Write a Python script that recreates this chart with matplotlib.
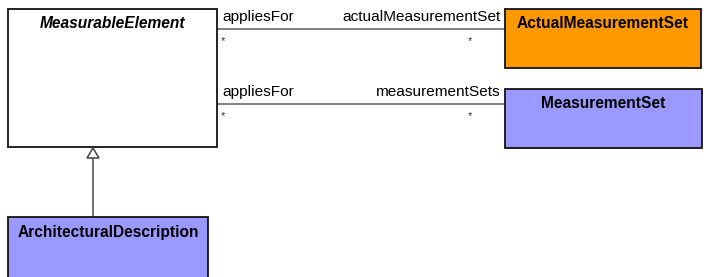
import matplotlib.pyplot as plt
from matplotlib.patches import Rectangle, Polygon

# Clases del diagrama
clases = ['MeasurableElement', 'ActualMeasurementSet', 'MeasurementSet', 'ArchitecturalDescription']
italica = [True, False, False, False]
colores = ['white', '#ff9900', '#9999ff', '#9999ff']

# Asociaciones: (rol origen, rol destino, multiplicidad origen, multiplicidad destino)
roles_origen = ['appliesFor', 'appliesFor']
roles_destino = ['actualMeasurementSet', 'measurementSets']
mult_origen = ['*', '*']
mult_destino = ['*', '*']

# Disposicion en pixeles (x0, y0, x1, y1)
cajas = [(8, 9, 217, 147), (505, 9, 701, 68), (505, 89, 702, 148), (8, 217, 208, 290)]
y_asoc = [29, 104]

plt.rcParams['font.family'] = ['Liberation Sans', 'DejaVu Sans']
fig = plt.figure(figsize=(7.04, 2.77), dpi=100)
ax = fig.add_axes([0, 0, 1, 1])
ax.set_xlim(0, 704)
ax.set_ylim(277, 0)
ax.axis('off')

for nombre, ita, col, (x0, y0, x1, y1) in zip(clases, italica, colores, cajas):
    ax.add_patch(Rectangle((x0, y0), x1 - x0, y1 - y0, facecolor=col,
                           edgecolor='#111111', linewidth=1.3, zorder=2))
    ax.text((x0 + x1) / 2, y0 + 15, nombre, ha='center', va='center',
            fontsize=11.2, fontweight='bold', style='italic' if ita else 'normal', zorder=3)

for y, ro, rd, mo, md in zip(y_asoc, roles_origen, roles_destino, mult_origen, mult_destino):
    ax.plot([217, 505], [y, y], color='#777777', linewidth=1.3, zorder=1)
    ax.text(222, y - 12, ro, ha='left', va='center', fontsize=11.1)
    ax.text(501, y - 12, rd, ha='right', va='center', fontsize=11.1)
    ax.text(221, y + 12, mo, ha='left', va='center', fontsize=8, color='#333333')
    ax.text(468, y + 12, md, ha='left', va='center', fontsize=8, color='#333333')

# Generalizacion
ax.plot([93, 93], [217, 158], color='#666666', linewidth=1.3, zorder=1)
ax.add_patch(Polygon([(93, 148), (87, 158), (99, 158)], closed=True,
                     facecolor='white', edgecolor='#444444', linewidth=1.1, zorder=3))

fig.savefig('out.png', dpi=100)
